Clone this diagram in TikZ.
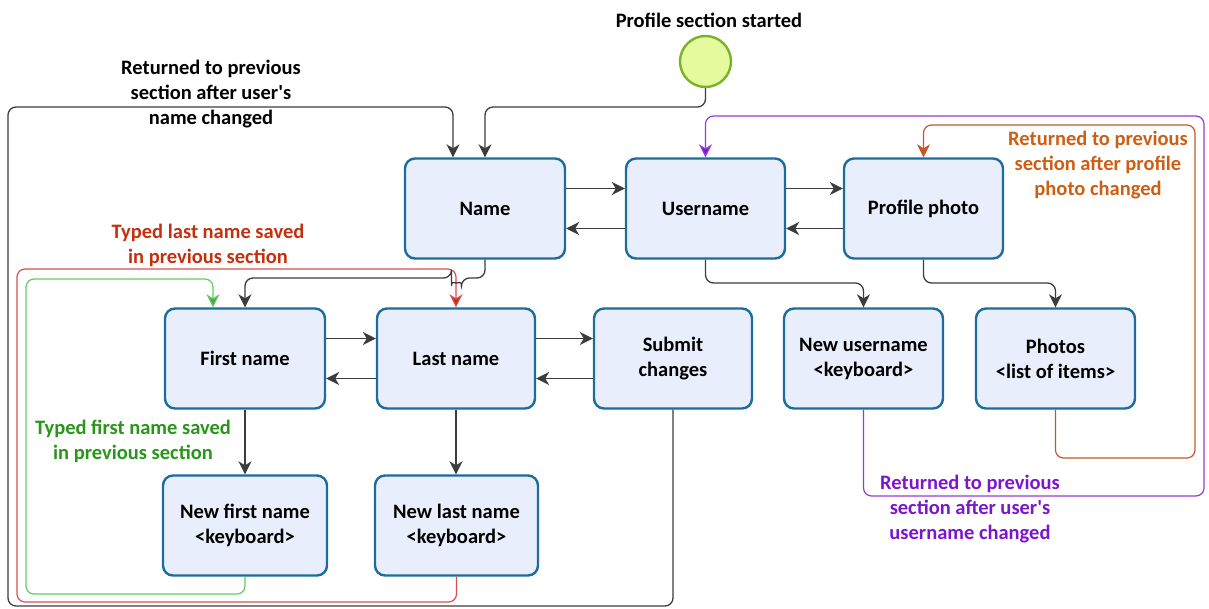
\documentclass[tikz,border=0pt]{standalone}
\usepackage{fontspec}
\setmainfont{Carlito}[Ligatures=TeXOff]
\usetikzlibrary{arrows.meta}

\definecolor{boxfill}{RGB}{233,238,252}
\definecolor{boxline}{RGB}{28,108,158}
\definecolor{startfill}{RGB}{228,250,156}
\definecolor{startline}{RGB}{122,178,40}
\definecolor{linkgray}{RGB}{60,60,60}
\definecolor{greenline}{RGB}{96,204,96}
\definecolor{greentext}{RGB}{40,150,26}
\definecolor{redline}{RGB}{214,80,80}
\definecolor{redtext}{RGB}{196,48,14}
\definecolor{purpleline}{RGB}{150,60,214}
\definecolor{purpletext}{RGB}{124,22,206}
\definecolor{orangeline}{RGB}{200,86,40}
\definecolor{orangetext}{RGB}{206,94,20}

\tikzset{
  x=1pt, y=-1pt,
  txt/.style={font=\bfseries\fontsize{20.5}{25}\selectfont, align=center},
  state/.style={txt, draw=boxline, line width=2.4pt, fill=boxfill,
    rounded corners=10pt, minimum width=158pt, minimum height=100pt,
    inner sep=0pt},
  conn/.style={draw=linkgray, line width=1.3pt, rounded corners=8pt,
    -{Stealth[length=13pt,width=13pt,inset=4pt]}},
  loopgreen/.style={conn, draw=greenline, line width=1.2pt,
    -{Stealth[length=13pt,width=13pt,inset=4pt,fill=greenline!80!black]}},
  loopred/.style={conn, draw=redline, line width=1.2pt,
    -{Stealth[length=13pt,width=13pt,inset=4pt,fill=redtext]}},
  looppurple/.style={conn, draw=purpleline, line width=1.2pt,
    -{Stealth[length=13pt,width=13pt,inset=4pt,fill=purpletext]}},
  looporange/.style={conn, draw=orangeline, line width=1.2pt,
    -{Stealth[length=13pt,width=13pt,inset=4pt,fill=orangeline]}},
}

\begin{document}
\begin{tikzpicture}
\useasboundingbox (0,0) rectangle (1209,608);

% start event
\node[circle, draw=startline, line width=2.4pt, fill=startfill,
      minimum size=51pt, inner sep=0pt] (start) at (705.5,61.5) {};
\node[txt] (title) at (709,20) {Profile section started};

% top row
\node[state, minimum width=160pt] (name) at (485,208.5) {Name};
\node[state, minimum width=159pt] (username) at (705.5,208.5) {Username};
\node[state, minimum width=159pt] (profile) at (923.5,208.5) {Profile photo};

% middle row
\node[state, minimum width=160pt] (first) at (245,358.5) {First name};
\node[state, minimum width=158pt] (last) at (456,358.5) {Last name};
\node[state, minimum width=158pt] (submit) at (673,358.5) {Submit\\changes};
\node[state, minimum width=159pt] (newuser) at (863.5,358.5) {New username\\<keyboard>};
\node[state, minimum width=159pt] (photos) at (1055.5,358.5) {Photos\\<list of items>};

% bottom row
\node[state, minimum width=164pt] (newfirst) at (245,525.5) {New first name\\<keyboard>};
\node[state, minimum width=163pt] (newlast) at (456.5,525.5) {New last name\\<keyboard>};

% loop labels
\node[txt] (lblname) at (211,94) {Returned to previous\\section after user's\\name changed};
\node[txt, text=redtext] (lbllast) at (208,245.5) {Typed last name saved\\in previous section};
\node[txt, text=greentext] (lblfirst) at (133,441) {Typed first name saved\\in previous section};
\node[txt, text=purpletext] (lbluser) at (970,509) {Returned to previous\\section after user's\\username changed};
\node[txt, text=orangetext] (lblphoto) at (1098,165.5) {Returned to previous\\section after profile\\photo changed};

% loop corners
\coordinate (s1) at (705.5,107);
\coordinate (s2) at (485,107);
\coordinate (b1) at (673,606);
\coordinate (b2) at (8,606);
\coordinate (b3) at (8,107);
\coordinate (b4) at (453,107);
\coordinate (r1) at (456.5,602);
\coordinate (r2) at (17,602);
\coordinate (r3) at (17,269);
\coordinate (r4) at (456,269);
\coordinate (g1) at (245,594);
\coordinate (g2) at (26,594);
\coordinate (g3) at (26,279);
\coordinate (g4) at (213,279);
\coordinate (p1) at (863.5,496);
\coordinate (p2) at (1204,496);
\coordinate (p3) at (1204,116);
\coordinate (p4) at (705.5,116);
\coordinate (o1) at (1055.5,458);
\coordinate (o2) at (1195,458);
\coordinate (o3) at (1195,125);
\coordinate (o4) at (923.5,125);

% red return loop (drawn first so the black link hops over it)
\draw[loopred] (newlast.south) -- (r1) -- (r2) -- (r3) -- (r4) -- (last.north);
% green return loop
\draw[loopgreen] (newfirst.south) -- (g1) -- (g2) -- (g3) -- (g4) -- ([xshift=-32pt]first.north);
% purple return loop
\draw[looppurple] (newuser.south) -- (p1) -- (p2) -- (p3) -- (p4) -- (username.north);
% orange return loop
\draw[looporange] (photos.south) -- (o1) -- (o2) -- (o3) -- (o4) -- (profile.north);

% start and submit loop into Name
\draw[conn] (start.south) -- (s1) -- (s2) -- (name.north);
\draw[conn] (submit.south) -- (b1) -- (b2) -- (b3) -- (b4) -- ([xshift=-32pt]name.north);

% horizontal navigation
\draw[conn] ([yshift=20pt]name.east) -- ([yshift=20pt]username.west);
\draw[conn] ([yshift=-20pt]username.west) -- ([yshift=-20pt]name.east);
\draw[conn] ([yshift=20pt]username.east) -- ([yshift=20pt]profile.west);
\draw[conn] ([yshift=-20pt]profile.west) -- ([yshift=-20pt]username.east);
\draw[conn] ([yshift=20pt]first.east) -- ([yshift=20pt]last.west);
\draw[conn] ([yshift=-20pt]last.west) -- ([yshift=-20pt]first.east);
\draw[conn] ([yshift=20pt]last.east) -- ([yshift=20pt]submit.west);
\draw[conn] ([yshift=-20pt]submit.west) -- ([yshift=-20pt]last.east);

% Name down to First name, hopping over the red loop
\coordinate (n1) at (485,278);
\coordinate (h1) at (461.5,278);
\coordinate (h2) at (451.5,278);
\coordinate (n2) at (245,278);
\draw[conn] (name.south) -- (n1) -- (h1)
  arc[start angle=0, end angle=-180, radius=5pt] -- (h2) -- (n2) -- (first.north);

% vertical links
\draw[conn] (first.south) -- (newfirst.north);
\draw[conn] (last.south) -- (last.south |- newlast.north);
\coordinate (u1) at (705.5,283);
\coordinate (u2) at (863.5,283);
\draw[conn] (username.south) -- (u1) -- (u2) -- (newuser.north);
\coordinate (f1) at (923.5,283);
\coordinate (f2) at (1055.5,283);
\draw[conn] (profile.south) -- (f1) -- (f2) -- (photos.north);
\end{tikzpicture}
\end{document}
